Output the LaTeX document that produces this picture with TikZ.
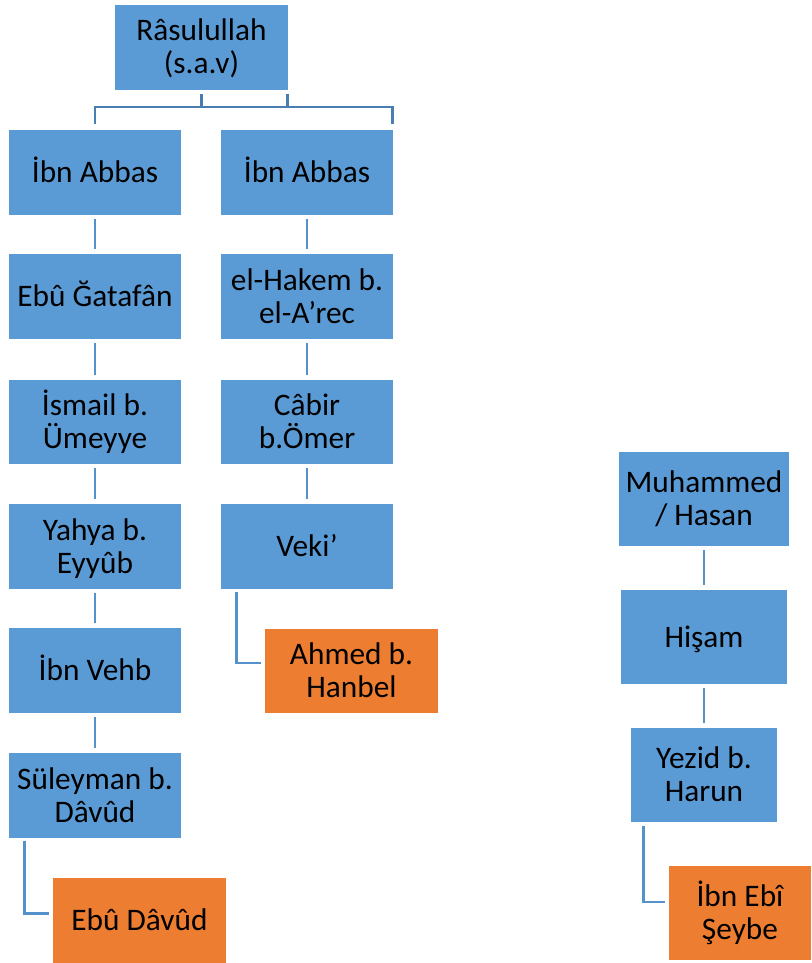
\documentclass[tikz,border=0pt]{standalone}
\usepackage{fontspec}
\setmainfont{Carlito}
\usetikzlibrary{calc}
\definecolor{boxblue}{HTML}{5B9BD5}
\definecolor{boxorange}{HTML}{ED7D31}
\definecolor{topline}{HTML}{4A7EB3}
\definecolor{subline}{HTML}{5592CC}
\newcommand\st{\vrule height 19.875pt depth 4.875pt width 0pt\relax}
\newcommand\mybox[7]{\node[#1, minimum width={(#4-#3)*0.75pt}, minimum height={(#6-#5)*0.75pt}] (#2) at ({(#3+#4)/2},{(#5+#6)/2}) {#7};}
\begin{document}
\begin{tikzpicture}[x=0.75pt,y=-0.75pt,
  basebox/.style={inner sep=0pt, align=center, text=black, font=\fontsize{23.5}{24.75}\selectfont},
  bluebox/.style={basebox, fill=boxblue},
  orangebox/.style={basebox, fill=boxorange},
  topc/.style={draw=topline, line width=2pt},
  conn/.style={draw=subline, line width=2pt, shorten <=3pt, shorten >=3.5pt},
  elbow/.style={draw=subline, line width=2pt}]
\useasboundingbox (0,0) rectangle (811,963);
\mybox{bluebox}{root}{115}{288}{5}{90}{\st Râsulullah\\\st (s.a.v)}
\mybox{bluebox}{a1}{9}{181}{130}{215}{\st İbn Abbas}
\mybox{bluebox}{a2}{9}{181}{254}{339}{\st Ebû Ğatafân}
\mybox{bluebox}{a3}{9}{181}{380}{464}{\st İsmail b.\\\st Ümeyye}
\mybox{bluebox}{a4}{9}{181}{504}{589}{\st Yahya b.\\\st Eyyûb}
\mybox{bluebox}{a5}{9}{181}{628}{713}{\st İbn Vehb}
\mybox{bluebox}{a6}{9}{181}{753}{838}{\st Süleyman b.\\\st Dâvûd}
\mybox{orangebox}{ad}{53}{226}{878}{963}{\st Ebû Dâvûd}
\mybox{bluebox}{b1}{221}{393}{130}{215}{\st İbn Abbas}
\mybox{bluebox}{b2}{221}{393}{254}{339}{\st el-Hakem b.\\\st el-A’rec}
\mybox{bluebox}{b3}{221}{393}{380}{464}{\st Câbir\\\st b.Ömer}
\mybox{bluebox}{b4}{221}{393}{504}{589}{\st Veki’}
\mybox{orangebox}{bh}{265}{438}{629}{713}{\st Ahmed b.\\\st Hanbel}
\mybox{bluebox}{c1}{619}{789}{452}{546}{\st Muhammed\\\st / Hasan}
\mybox{bluebox}{c2}{621}{787}{590}{684}{\st Hişam}
\mybox{bluebox}{c3}{631}{777}{728}{822}{\st Yezid b.\\\st Harun}
\mybox{orangebox}{cs}{669}{811}{866}{960}{\st İbn Ebî\\\st Şeybe}
% top bracket
\coordinate (bar) at (0,107);
\path (root.south) ++(0,4) coordinate (s1);
\path (root.south east) ++(-1,4) coordinate (s2);
\path (a1.north) ++(0,-6) coordinate (l1);
\path (b1.north east) ++(-1,-6) coordinate (r1);
\draw[topc] (s1) -- (s1 |- bar);
\draw[topc] (s2) -- (s2 |- bar);
\draw[topc] (l1) |- (r1 |- bar) -- (r1);
% chains
\draw[conn] (a1) -- (a2);
\draw[conn] (a2) -- (a3);
\draw[conn] (a3) -- (a4);
\draw[conn] (a4) -- (a5);
\draw[conn] (a5) -- (a6);
\draw[conn] (b1) -- (b2);
\draw[conn] (b2) -- (b3);
\draw[conn] (b3) -- (b4);
\draw[conn] (c1) -- (c2);
\draw[conn] (c2) -- (c3);
% elbows
\path (a6.south west) ++(16,3) coordinate (e1);
\path (ad.west) ++(-4,-7) coordinate (e1b);
\draw[elbow] (e1) |- (e1b);
\path (b4.south west) ++(16,3) coordinate (e2);
\path (bh.west) ++(-4,-8) coordinate (e2b);
\draw[elbow] (e2) |- (e2b);
\path (c3.south west) ++(13,4) coordinate (e3);
\path (cs.west) ++(-4,-11) coordinate (e3b);
\draw[elbow] (e3) |- (e3b);
\end{tikzpicture}
\end{document}
